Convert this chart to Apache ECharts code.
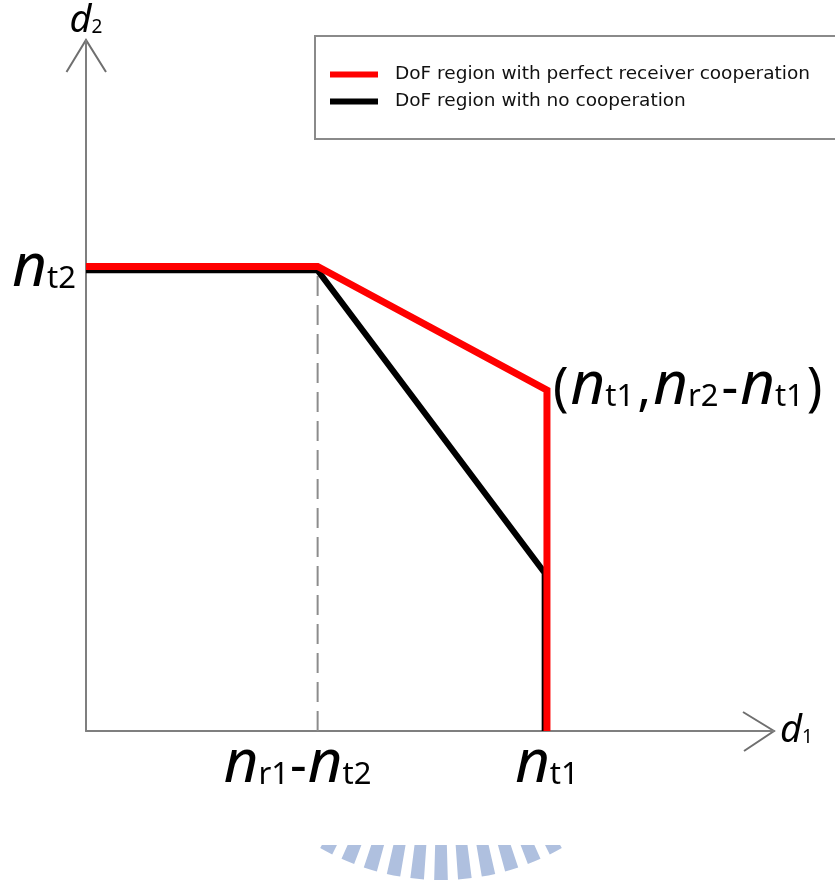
<!DOCTYPE html>
<html>
<head>
<meta charset="utf-8">
<script src="https://cdn.jsdelivr.net/npm/echarts@6/dist/echarts.min.js"></script>
<style>
  html, body { margin: 0; padding: 0; background: #ffffff; }
  #chart { width: 835px; height: 881px; }
</style>
</head>
<body>
<div id="chart"></div>
<script>
// Boundary of the DoF region with perfect receiver cooperation (d1, d2)
const perfectD1 = [0, 2.02, 4.02, 4.02];
const perfectD2 = [3.025, 3.025, 2.22, 0];
// Boundary of the DoF region with no cooperation (d1, d2)
const noCoopD1 = [0, 2.02, 4.0, 4.0];
const noCoopD2 = [3.0, 3.0, 1.03, 0];
// Vertical guide from the corner point down to the d1 axis
const guideD1 = [2.02, 2.02];
const guideD2 = [0, 3.0];
// Tick positions and labels; n_{..} is an italic n with a subscript
const xTickValues = [2.02, 4.02];
const xTickLabels = ['n_{r1}-n_{t2}', 'n_{t1}'];
const yTickValues = [3.01];
const yTickLabels = ['n_{t2}'];
const cornerIndex = 2;
const cornerLabel = '(n_{t1},n_{r2}-n_{t1})';
const seriesNames = ['DoF region with perfect receiver cooperation', 'DoF region with no cooperation'];
const xMax = 6;
const yMax = 4.5;

// Turn "n_{t1}" style markup into ECharts rich text tokens
function toRich(text, pre) {
  let out = '';
  let last = 0;
  const re = /n_\{([^}]*)\}/g;
  let m;
  while ((m = re.exec(text))) {
    if (m.index > last) out += '{' + pre + 'p|' + text.slice(last, m.index) + '}';
    out += '{' + pre + 'n|n}{' + pre + 's|' + m[1] + '}';
    last = re.lastIndex;
  }
  if (last < text.length) out += '{' + pre + 'p|' + text.slice(last) + '}';
  return out;
}

// Rich styles: big italic n, upright subscript, upright punctuation.
// The top padding pushes smaller tokens down so the baselines line up.
function mathStyles(pre, nSize, sSize, pSize, spread) {
  const k = 0.7;
  const o = {};
  o[pre + 'n'] = { fontFamily: 'Noto Sans', fontStyle: 'italic', fontSize: nSize, color: '#000' };
  o[pre + 's'] = { fontFamily: 'Noto Sans', fontSize: sSize, color: '#000', padding: [k * (nSize - sSize), spread, 0, 0] };
  o[pre + 'p'] = { fontFamily: 'Noto Sans', fontSize: pSize, color: '#000', padding: [k * (nSize - pSize), 1 + spread, 0, 1 + spread] };
  // trailing gap that nudges a label off its tick centre
  o[pre + 'gap'] = { width: 40, fontSize: 10 };
  return o;
}

function pairs(xs, ys) {
  return xs.map(function (x, i) { return [x, ys[i]]; });
}

const chart = echarts.init(document.getElementById('chart'), null, { renderer: 'canvas' });

const axisGrey = '#7f7f7f';

const perfectData = pairs(perfectD1, perfectD2).map(function (p, i) {
  if (i !== cornerIndex) return { value: p };
  return {
    value: p,
    label: {
      show: true,
      position: 'right',
      distance: 4,
      offset: [0, -3],
      formatter: toRich(cornerLabel, 'c'),
      rich: mathStyles('c', 60, 31, 52, 1)
    }
  };
});

const xLabelMap = {};
xTickValues.forEach(function (v, i) {
  // the first d1 label sits a little left of its tick
  xLabelMap[v] = toRich(xTickLabels[i], 'x') + (i === 0 ? '{xgap| }' : '');
});
const yLabelMap = {};
yTickValues.forEach(function (v, i) { yLabelMap[v] = toRich(yTickLabels[i], 'y'); });

const option = {
  backgroundColor: '#ffffff',
  animation: false,
  grid: { left: 86, top: 40, right: 61, bottom: 150, containLabel: false },
  legend: {
    orient: 'vertical',
    left: 325,
    top: 60,
    itemWidth: 48,
    itemHeight: 6,
    itemGap: 8,
    icon: 'rect',
    selectedMode: false,
    data: seriesNames,
    textStyle: { fontFamily: 'DejaVu Sans', fontSize: 18.5, color: '#111', padding: [0, 0, 0, 12] }
  },
  xAxis: {
    type: 'value',
    min: 0,
    max: xMax,
    splitLine: { show: false },
    axisTick: { show: false },
    axisLine: { show: true, onZero: false, lineStyle: { color: axisGrey, width: 2 } },
    axisLabel: {
      show: true,
      customValues: xTickValues,
      margin: 4,
      formatter: function (v) { return xLabelMap[v] || ''; },
      rich: mathStyles('x', 60, 31, 52, 0)
    },
    name: '{dd|d}{ds|1}',
    nameLocation: 'end',
    nameGap: 6,
    nameTextStyle: {
      rich: {
        dd: { fontFamily: 'Noto Sans', fontStyle: 'italic', fontSize: 38, color: '#000' },
        ds: { fontFamily: 'Noto Sans', fontSize: 19, color: '#000', padding: [13, 0, 0, 0] }
      }
    }
  },
  yAxis: {
    type: 'value',
    min: 0,
    max: yMax,
    splitLine: { show: false },
    axisTick: { show: false },
    axisLine: { show: true, onZero: false, lineStyle: { color: axisGrey, width: 2 } },
    axisLabel: {
      show: true,
      customValues: yTickValues,
      margin: 10,
      formatter: function (v) { return yLabelMap[v] || ''; },
      rich: mathStyles('y', 60, 31, 52, 0)
    },
    name: '{dd|d}{ds|2}',
    nameLocation: 'end',
    nameGap: 0,
    nameTextStyle: {
      rich: {
        dd: { fontFamily: 'Noto Sans', fontStyle: 'italic', fontSize: 38, color: '#000' },
        ds: { fontFamily: 'Noto Sans', fontSize: 19, color: '#000', padding: [13, 0, 0, 0] }
      }
    }
  },
  series: [
    {
      name: 'guide',
      type: 'line',
      data: pairs(guideD1, guideD2),
      showSymbol: false,
      silent: true,
      z: 1,
      lineStyle: { color: '#8c8c8c', width: 2, type: [20, 9] }
    },
    {
      name: seriesNames[1],
      type: 'line',
      data: pairs(noCoopD1, noCoopD2),
      showSymbol: false,
      z: 2,
      itemStyle: { color: '#000000' },
      lineStyle: { color: '#000000', width: 6, join: 'miter' }
    },
    {
      name: seriesNames[0],
      type: 'line',
      data: perfectData,
      symbol: 'circle',
      symbolSize: 0,
      showSymbol: true,
      z: 3,
      itemStyle: { color: '#ff0000' },
      lineStyle: { color: '#ff0000', width: 7, join: 'miter' },
      label: { show: false }
    }
  ]
};

chart.setOption(option);

// Open chevron arrowheads at the ends of both axes, plus the legend frame
// and the faint emblem under the plot.
const yTip = chart.convertToPixel({ gridIndex: 0 }, [0, yMax]);
const xTip = chart.convertToPixel({ gridIndex: 0 }, [xMax, 0]);

const graphics = [
  {
    type: 'rect',
    z: -1,
    shape: { x: 315, y: 36, width: 540, height: 103 },
    style: { fill: '#ffffff', stroke: '#8a8a8a', lineWidth: 2 }
  },
  {
    type: 'polyline',
    shape: { points: [[yTip[0] - 19.5, yTip[1] + 32], [yTip[0], yTip[1]], [yTip[0] + 20, yTip[1] + 32]] },
    style: { stroke: '#6f6f6f', lineWidth: 2, fill: null }
  },
  {
    type: 'polyline',
    shape: { points: [[xTip[0] - 31, xTip[1] - 19], [xTip[0], xTip[1]], [xTip[0] - 30, xTip[1] + 20]] },
    style: { stroke: '#6f6f6f', lineWidth: 2, fill: null }
  }
];

const emblemCx = 441, emblemCy = 636;
for (let k = -5; k <= 5; k++) {
  const a = Math.PI / 2 + k * 0.098;
  graphics.push({
    type: 'sector',
    z: -2,
    silent: true,
    shape: { cx: emblemCx, cy: emblemCy, r0: 200, r: 244, startAngle: a - 0.028, endAngle: a + 0.028 },
    style: { fill: '#afc0df' }
  });
}
graphics.push({
  type: 'rect',
  z: -1.5,
  silent: true,
  shape: { x: 290, y: 800, width: 300, height: 45 },
  style: { fill: '#ffffff' }
});

chart.setOption({ graphic: graphics });
</script>
</body>
</html>
